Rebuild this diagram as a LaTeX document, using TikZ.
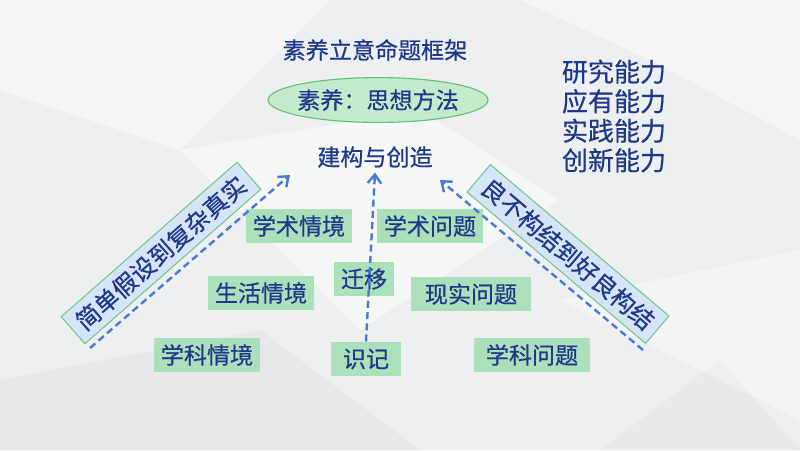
\documentclass[tikz,border=0pt]{standalone}
\usepackage{fontspec}
\setmainfont{Noto Sans CJK SC}[FakeBold=0.5]
\usetikzlibrary{arrows.meta,shapes.geometric}
\definecolor{titleblue}{RGB}{30,56,138}
\definecolor{boxgreen}{RGB}{170,225,186}
\definecolor{ovalgreen}{RGB}{196,235,204}
\definecolor{ovalline}{RGB}{100,192,120}
\definecolor{bannerblue}{RGB}{214,228,248}
\definecolor{bannerline}{RGB}{120,200,140}
\definecolor{dashblue}{RGB}{72,122,212}
\definecolor{bgpaper}{RGB}{238,239,240}

\begin{document}
\begin{tikzpicture}[x=0.025cm, y=-0.025cm,
    txt/.style={text=titleblue, font=\fontsize{16.4}{19}\selectfont},
    box/.style={txt, fill=boxgreen, inner xsep=0.17cm, minimum height=0.86cm},
    oval/.style={txt, ellipse, draw=ovalline, fill=ovalgreen, thick,
                 inner xsep=-8pt, inner ysep=0pt,
                 minimum width=5.5cm, minimum height=1.12cm},
    banner/.style={txt, font=\fontsize{17.2}{19}\selectfont, draw=bannerline,
                   fill=bannerblue, thick, minimum width=5.85cm, minimum height=0.9cm},
    flow/.style={-{Straight Barb[length=2.2mm,width=3.4mm]}, draw=dashblue,
                 line width=1.7pt, dash pattern=on 5pt off 3pt}
  ]
  % --- background with faint facets ---
  \fill[bgpaper] (0,0) rectangle (800,450);
  \fill[white, opacity=0.55] (0,0) -- (330,0) -- (180,150) -- (0,90) -- cycle;
  \fill[white, opacity=0.45] (520,0) -- (800,0) -- (800,140) -- (650,60) -- cycle;
  \fill[white, opacity=0.5] (180,150) -- (420,110) -- (560,200) -- (360,330) -- cycle;
  \fill[white, opacity=0.4] (560,300) -- (800,250) -- (800,420) -- cycle;
  \fill[gray, opacity=0.06] (0,380) -- (260,330) -- (420,450) -- (0,450) -- cycle;
  \fill[gray, opacity=0.05] (600,450) -- (720,360) -- (800,450) -- cycle;

  % --- top: title, oval, goal ---
  \node[txt]  (title) at (375,50)  {素养立意命题框架};
  \node[oval] (core)  at (378,100) {素养：思想方法};
  \node[txt]  (goal)  at (375,157) {建构与创造};

  % --- abilities on the right ---
  \node[txt, font=\fontsize{18.5}{21}\selectfont, align=center] (abilities) at (614,116)
       {研究能力\\应有能力\\实践能力\\创新能力};

  % --- rotated banners ---
  \node[banner, rotate=41.3]  (simple) at (161,253) {简单假设到复杂真实};
  \node[banner, rotate=-40.3] (illdef) at (568,254) {良不构结到好良构结};

  % --- situations and problems ---
  \node[box] (acsit)   at (299,226) {学术情境};
  \node[box] (acprob)  at (430,226) {学术问题};
  \node[box] (transfer) at (364,279) {迁移};
  \node[box] (lifesit) at (261,293) {生活情境};
  \node[box, minimum width=3cm] (realprob) at (471,294) {现实问题};
  \node[box] (subsit)  at (207,355) {学科情境};
  \node[box, minimum width=1.75cm] (recall) at (366,359) {识记};
  \node[box, minimum width=2.9cm] (subprob) at (532,355) {学科问题};

  % --- dashed growth arrows ---
  \coordinate (lfoot) at (90,348);
  \coordinate (ltip)  at (290,175);
  \coordinate (rfoot) at (643,350);
  \coordinate (rtip)  at (440,180);
  \draw[flow] (lfoot) -- (ltip);
  \draw[flow] (recall.north) -- (goal.south);
  \draw[flow] (rfoot) -- (rtip);
\end{tikzpicture}
\end{document}
